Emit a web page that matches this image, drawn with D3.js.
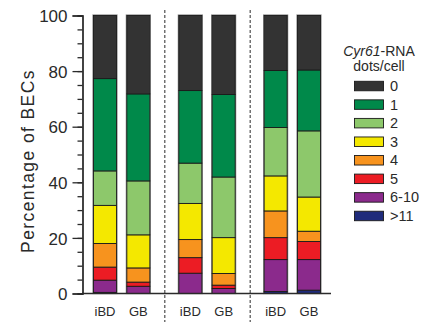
<!DOCTYPE html>
<html>
<head>
<meta charset="utf-8">
<script src="https://cdn.jsdelivr.net/npm/d3@7/dist/d3.min.js"></script>
<style>
  html, body { margin: 0; padding: 0; background: #fff; }
  svg { display: block; font-family: "Liberation Sans", Arial, sans-serif; }
</style>
</head>
<body>
<svg id="chart" width="439" height="322"></svg>
<script>
// Bars: three pairs of iBD / GB samples
const groups = ["g1", "g2", "g3"];
const conditions = ["iBD", "GB"];

// Dot-count classes, listed top of legend first
const dotClasses = ["0", "1", "2", "3", "4", "5", "6-10", ">11"];
const classColors = ["#333333", "#00894a", "#8dc86b", "#f4e800", "#f7931e", "#ec1c24", "#8b2a8c", "#1f2b7b"];

// Percentage of BECs in each class, one entry per bar (g1 iBD, g1 GB, g2 iBD, g2 GB, g3 iBD, g3 GB)
const pct0     = [22.7, 28.2, 27.0, 28.4, 19.8, 19.6];
const pct1     = [33.2, 31.3, 26.1, 29.7, 20.5, 21.9];
const pct2     = [12.4, 19.4, 14.5, 21.8, 17.4, 23.8];
const pct3     = [13.7, 11.9, 13.0, 12.9, 12.6, 12.3];
const pct4     = [8.5, 5.1, 6.5, 4.2, 9.6, 3.7];
const pct5     = [4.7, 1.5, 5.6, 1.2, 7.9, 6.5];
const pct6to10 = [4.4, 2.6, 7.3, 1.8, 11.5, 11.0];
const pctOver11 = [0.4, 0, 0, 0, 0.7, 1.2];

const yTicks = [0, 20, 40, 60, 80, 100];

const seriesByClass = {
  "0": pct0, "1": pct1, "2": pct2, "3": pct3, "4": pct4,
  "5": pct5, "6-10": pct6to10, ">11": pctOver11
};

// One row per bar for d3.stack
const rows = [];
groups.forEach((g, gi) => {
  conditions.forEach((c, ci) => {
    const idx = gi * conditions.length + ci;
    const row = { group: g, condition: c };
    dotClasses.forEach(k => { row[k] = seriesByClass[k][idx]; });
    rows.push(row);
  });
});

const svg = d3.select("#chart");
const ink = "#2a2a2a";

const y = d3.scaleLinear().domain([0, 100]).range([293.5, 15.5]);
const xGroup = d3.scaleBand().domain(groups).range([79, 335]).padding(0);
const xCond = d3.scaleBand().domain(conditions).range([0, xGroup.bandwidth()])
  .paddingInner(0.31).paddingOuter(0.435);

const color = d3.scaleOrdinal().domain(dotClasses).range(classColors);

// stack from the bottom: >11 first, 0 on top
const stackKeys = dotClasses.slice().reverse();
const stacked = d3.stack().keys(stackKeys)(rows);

const barX = d => xGroup(d.data.group) + xCond(d.data.condition);

// bar outline halo
svg.append("g").selectAll("rect")
  .data(rows)
  .join("rect")
  .attr("x", d => xGroup(d.group) + xCond(d.condition) - 0.5)
  .attr("y", y(100) - 0.5)
  .attr("width", xCond.bandwidth() + 1)
  .attr("height", y(0) - y(100) + 0.5)
  .attr("fill", "none")
  .attr("stroke", "#8a8a8a")
  .attr("stroke-width", 1.2);

// segments
svg.append("g").selectAll("g")
  .data(stacked)
  .join("g")
  .attr("fill", s => color(s.key))
  .selectAll("rect")
  .data(s => s.filter(d => d[1] - d[0] > 0))
  .join("rect")
  .attr("x", barX)
  .attr("y", d => y(d[1]))
  .attr("width", xCond.bandwidth())
  .attr("height", d => y(d[0]) - y(d[1]))
  .attr("stroke", "#1a1a1a")
  .attr("stroke-width", 0.9);

// dashed separators between pairs
svg.append("g").selectAll("line")
  .data(groups.slice(1))
  .join("line")
  .attr("x1", g => xGroup(g) + 0.5)
  .attr("x2", g => xGroup(g) + 0.5)
  .attr("y1", 10)
  .attr("y2", 322)
  .attr("stroke", ink)
  .attr("stroke-width", 1)
  .attr("stroke-dasharray", "3,2");

// y axis: major and minor ticks
const yAxisG = svg.append("g").attr("transform", "translate(82.5,0)");
yAxisG.call(d3.axisLeft(y).tickValues(d3.range(0, 101, 5)).tickSize(5).tickFormat(""));
yAxisG.append("g").call(d3.axisLeft(y).tickValues(yTicks).tickSize(10).tickPadding(5).tickFormat(d3.format("d")));
yAxisG.selectAll(".domain").attr("stroke", ink).attr("stroke-width", 1.3);
yAxisG.selectAll(".tick line").attr("stroke", ink).attr("stroke-width", 1.3);
yAxisG.selectAll(".tick text")
  .attr("fill", ink)
  .style("font-family", "Liberation Sans, Arial, sans-serif")
  .style("font-size", "17px")
  .attr("dy", "0.36em");

// x axis baseline and labels
const xAxisG = svg.append("g");
xAxisG.append("line")
  .attr("x1", 82).attr("x2", 331)
  .attr("y1", y(0)).attr("y2", y(0))
  .attr("stroke", ink).attr("stroke-width", 1.3);
xAxisG.selectAll("text")
  .data(rows)
  .join("text")
  .attr("x", d => xGroup(d.group) + xCond(d.condition) + xCond.bandwidth() / 2)
  .attr("y", 315.5)
  .attr("text-anchor", "middle")
  .attr("fill", ink)
  .style("font-size", "13px")
  .text(d => d.condition);

// y title
svg.append("text")
  .attr("transform", "translate(34,161) rotate(-90)")
  .attr("text-anchor", "middle")
  .attr("fill", ink)
  .style("font-size", "17.5px")
  .style("letter-spacing", "1.4px")
  .text("Percentage of BECs");

// legend
const legend = svg.append("g");
const title1 = legend.append("text")
  .attr("x", 379).attr("y", 55.5)
  .attr("text-anchor", "middle")
  .attr("fill", ink)
  .style("font-size", "14px");
title1.append("tspan").style("font-style", "italic").text("Cyr61");
title1.append("tspan").text("-RNA");
legend.append("text")
  .attr("x", 379).attr("y", 70.5)
  .attr("text-anchor", "middle")
  .attr("fill", ink)
  .style("font-size", "14px")
  .text("dots/cell");

const legendY = d3.scaleBand().domain(dotClasses).range([76.5, 225]);
const items = legend.selectAll("g.item")
  .data(dotClasses)
  .join("g")
  .attr("class", "item")
  .attr("transform", k => `translate(0,${legendY(k) + legendY.bandwidth() / 2})`);
items.append("rect")
  .attr("x", 354.5).attr("y", -4.5)
  .attr("width", 29).attr("height", 9.5)
  .attr("fill", k => color(k))
  .attr("stroke", "#1a1a1a")
  .attr("stroke-width", 0.9);
items.append("text")
  .attr("x", 390).attr("y", 0)
  .attr("dy", "0.36em")
  .attr("fill", ink)
  .style("font-size", "14.5px")
  .text(k => k);
</script>
</body>
</html>
